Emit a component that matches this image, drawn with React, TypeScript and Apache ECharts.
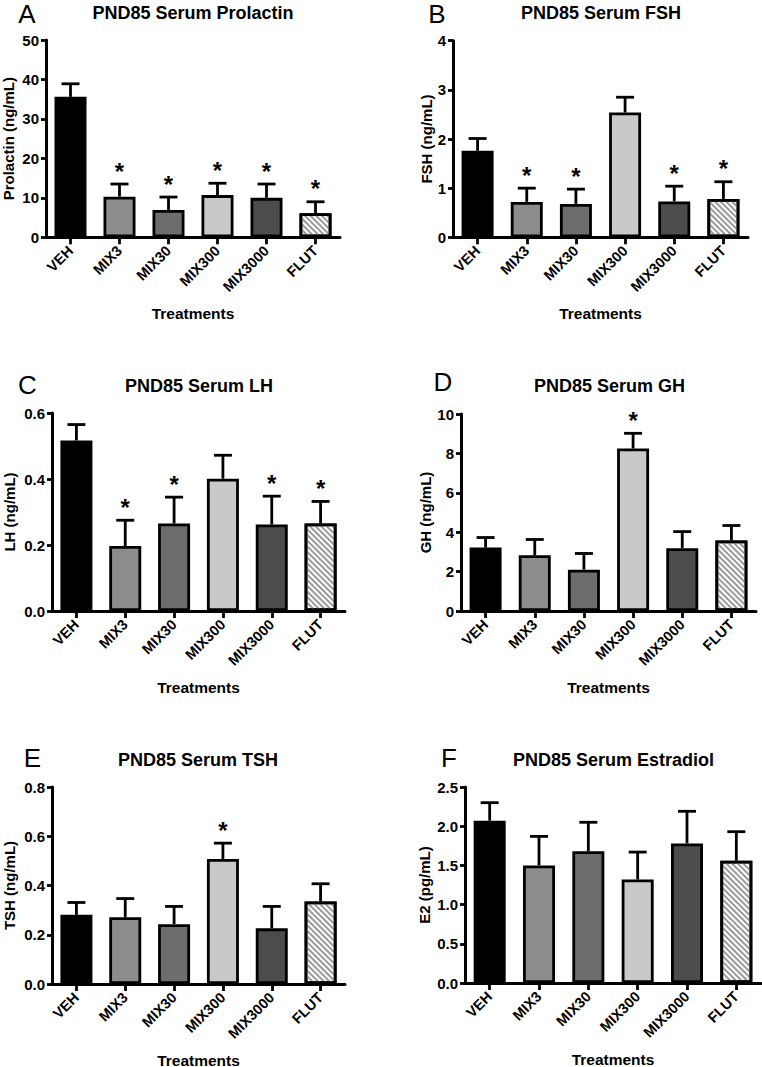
import React, { useEffect, useRef } from 'react';
import * as echarts from 'echarts';

const FONT = '"Liberation Sans", Arial, Helvetica, sans-serif';

const categories = ['VEH', 'MIX3', 'MIX30', 'MIX300', 'MIX3000', 'FLUT'];
const barColors = ['#000000', '#8c8c8c', '#6d6d6d', '#c9c9c9', '#4c4c4c', '#ffffff'];

const prolactinMean = [35.6, 10.3, 6.9, 10.7, 10.0, 6.1];
const prolactinUpper = [38.9, 13.5, 10.2, 13.7, 13.5, 9.0];
const prolactinSig = ['', '*', '*', '*', '*', '*'];
const prolactinTicks = [0, 10, 20, 30, 40, 50];

const fshMean = [1.76, 0.72, 0.68, 2.54, 0.73, 0.78];
const fshUpper = [2.01, 1.0, 0.98, 2.85, 1.04, 1.13];
const fshSig = ['', '*', '*', '', '*', '*'];
const fshTicks = [0, 1, 2, 3, 4];

const lhMean = [0.517, 0.197, 0.265, 0.401, 0.262, 0.265];
const lhUpper = [0.565, 0.275, 0.345, 0.472, 0.348, 0.332];
const lhSig = ['', '*', '*', '', '*', '*'];
const lhTicks = [0.0, 0.2, 0.4, 0.6];

const ghMean = [3.22, 2.83, 2.1, 8.25, 3.19, 3.58];
const ghUpper = [3.73, 3.63, 2.92, 9.02, 4.03, 4.34];
const ghSig = ['', '', '', '*', '', ''];
const ghTicks = [0, 2, 4, 6, 8, 10];

const tshMean = [0.281, 0.271, 0.243, 0.508, 0.226, 0.335];
const tshUpper = [0.331, 0.347, 0.315, 0.572, 0.315, 0.407];
const tshSig = ['', '', '', '*', '', ''];
const tshTicks = [0.0, 0.2, 0.4, 0.6, 0.8];

const e2Mean = [2.07, 1.5, 1.68, 1.32, 1.78, 1.56];
const e2Upper = [2.3, 1.87, 2.05, 1.67, 2.19, 1.93];
const e2Sig = ['', '', '', '', '', ''];
const e2Ticks = [0.0, 0.5, 1.0, 1.5, 2.0, 2.5];

const panels = [
  { letter: 'A', title: 'PND85 Serum Prolactin', yName: 'Prolactin (ng/mL)', mean: prolactinMean, upper: prolactinUpper, sig: prolactinSig, ticks: prolactinTicks, decimals: 0 },
  { letter: 'B', title: 'PND85 Serum FSH', yName: 'FSH (ng/mL)', mean: fshMean, upper: fshUpper, sig: fshSig, ticks: fshTicks, decimals: 0 },
  { letter: 'C', title: 'PND85 Serum LH', yName: 'LH (ng/mL)', mean: lhMean, upper: lhUpper, sig: lhSig, ticks: lhTicks, decimals: 1 },
  { letter: 'D', title: 'PND85 Serum GH', yName: 'GH (ng/mL)', mean: ghMean, upper: ghUpper, sig: ghSig, ticks: ghTicks, decimals: 0 },
  { letter: 'E', title: 'PND85 Serum TSH', yName: 'TSH (ng/mL)', mean: tshMean, upper: tshUpper, sig: tshSig, ticks: tshTicks, decimals: 1 },
  { letter: 'F', title: 'PND85 Serum Estradiol', yName: 'E2 (pg/mL)', mean: e2Mean, upper: e2Upper, sig: e2Sig, ticks: e2Ticks, decimals: 1 },
];

// layout (pixels)
const layouts = [
  { left: 46, top: 40, width: 294, height: 197.3, nameGap: 30, letterX: 27, letterY: 14, titleX: 193, titleY: 12.7 },
  { left: 453, top: 40.7, width: 295, height: 196.6, nameGap: 19, letterX: 437, letterY: 14, titleX: 601, titleY: 13.3 },
  { left: 52, top: 413, width: 293, height: 198, nameGap: 35, letterX: 27.5, letterY: 385, titleX: 199, titleY: 386 },
  { left: 461, top: 414, width: 295, height: 197, nameGap: 23.5, letterX: 443, letterY: 382, titleX: 609.5, titleY: 386 },
  { left: 52, top: 787, width: 293, height: 197, nameGap: 35, letterX: 32.5, letterY: 758, titleX: 198, titleY: 760 },
  { left: 465, top: 787, width: 296, height: 196, nameGap: 33.5, letterX: 449, letterY: 758, titleX: 613.5, titleY: 760 },
];

const hatch = {
  symbol: 'rect',
  symbolSize: 1,
  color: '#9a9a9a',
  backgroundColor: '#ffffff',
  dashArrayX: [1, 0],
  dashArrayY: [1.5, 2],
  rotation: Math.PI / 4,
};

const LW = 2.8;

function buildOption() {
  const axisLineStyle = { color: '#000', width: 3 };
  const grid: any[] = [];
  const xAxis: any[] = [];
  const yAxis: any[] = [];
  const series: any[] = [];
  const graphic: any[] = [];

  panels.forEach((p, k) => {
    const L = layouts[k];
    grid.push({ left: L.left, top: L.top, width: L.width, height: L.height, containLabel: false, outerBoundsMode: 'none' });
    xAxis.push({
      type: 'category',
      gridIndex: k,
      data: categories,
      boundaryGap: true,
      axisLine: { show: true, lineStyle: axisLineStyle },
      axisTick: { show: true, alignWithLabel: true, length: 7, lineStyle: { color: '#000', width: LW } },
      axisLabel: { rotate: 45, interval: 0, margin: 11, fontSize: 14.5, fontWeight: 'bold', color: '#000', fontFamily: FONT },
      splitLine: { show: false },
      name: 'Treatments',
      nameLocation: 'middle',
      nameGap: 68,
      nameTextStyle: { fontSize: 15.5, fontWeight: 'bold', color: '#000', fontFamily: FONT },
    });
    const t = p.ticks;
    yAxis.push({
      type: 'value',
      gridIndex: k,
      min: t[0],
      max: t[t.length - 1],
      interval: t[1] - t[0],
      axisLine: { show: true, lineStyle: axisLineStyle },
      axisTick: { show: true, length: 5, lineStyle: { color: '#000', width: LW } },
      axisLabel: {
        margin: 7,
        fontSize: 15,
        fontWeight: 'bold',
        color: '#000',
        fontFamily: FONT,
        formatter: (v: number) => v.toFixed(p.decimals),
      },
      splitLine: { show: false },
      name: p.yName,
      nameLocation: 'middle',
      nameGap: L.nameGap,
      nameTextStyle: { fontSize: 15, fontWeight: 'bold', color: '#000', fontFamily: FONT },
    });
    series.push({
      type: 'bar',
      xAxisIndex: k,
      yAxisIndex: k,
      barWidth: 32,
      silent: true,
      z: 2,
      itemStyle: { borderColor: '#000', borderWidth: LW },
      data: p.mean.map((v, i) => ({
        value: v,
        itemStyle: i === 5 ? { color: barColors[i], decal: hatch } : { color: barColors[i] },
      })),
    });
    series.push({
      type: 'custom',
      xAxisIndex: k,
      yAxisIndex: k,
      silent: true,
      clip: false,
      z: 3,
      encode: { x: 0, y: [1, 2] },
      data: p.mean.map((m, i) => [i, m, p.upper[i]]),
      renderItem: (params: any, api: any) => {
        const i = api.value(0);
        const base = api.coord([i, api.value(1)]);
        const top = api.coord([i, api.value(2)]);
        const children: any[] = [
          { type: 'line', shape: { x1: base[0], y1: base[1], x2: base[0], y2: top[1] }, style: { stroke: '#000', lineWidth: LW } },
          { type: 'line', shape: { x1: top[0] - 9, y1: top[1], x2: top[0] + 9, y2: top[1] }, style: { stroke: '#000', lineWidth: LW } },
        ];
        const s = p.sig[params.dataIndex];
        if (s) {
          children.push({
            type: 'text',
            x: top[0],
            y: top[1] - 13,
            style: { text: s, font: `bold 24px ${FONT}`, align: 'center', verticalAlign: 'middle', fill: '#000' },
          });
        }
        return { type: 'group', children };
      },
    });
    graphic.push({
      type: 'text',
      x: L.letterX,
      y: L.letterY,
      style: { text: p.letter, font: `26px ${FONT}`, align: 'center', verticalAlign: 'middle', fill: '#000' },
    });
    graphic.push({
      type: 'text',
      x: L.titleX,
      y: L.titleY,
      style: { text: p.title, font: `bold 18px ${FONT}`, align: 'center', verticalAlign: 'middle', fill: '#000' },
    });
  });

  return {
    animation: false,
    backgroundColor: '#ffffff',
    grid,
    xAxis,
    yAxis,
    series,
    graphic,
  };
}

export default function App() {
  const ref = useRef<HTMLDivElement>(null);
  useEffect(() => {
    if (!ref.current) return;
    const chart = echarts.init(ref.current, null, { renderer: 'svg' });
    chart.setOption(buildOption() as any);
    return () => chart.dispose();
  }, []);
  return (
    <div
      ref={ref}
      style={{ position: 'absolute', left: 0, top: 0, width: 762, height: 1067, background: '#fff' }}
    />
  );
}
